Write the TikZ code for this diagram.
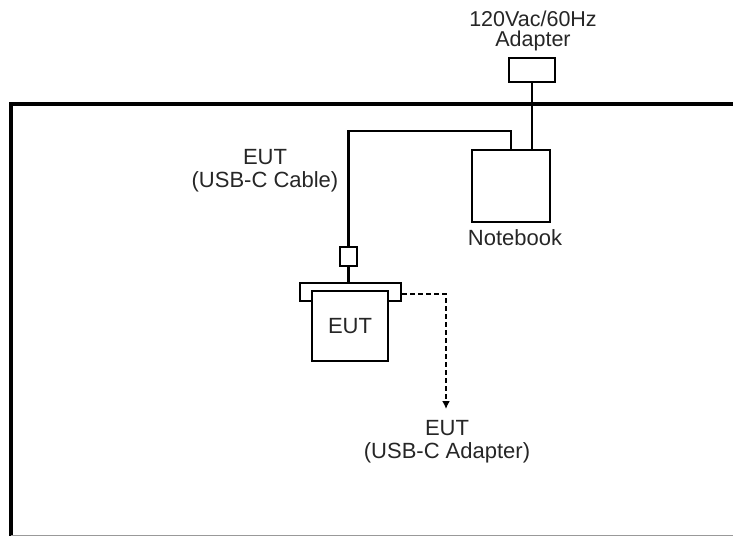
\documentclass[tikz,border=0pt]{standalone}
\usepackage{fontspec}
\setmainfont{Liberation Sans}
\usetikzlibrary{arrows.meta}
\begin{document}
\begin{tikzpicture}[x=1pt,y=-1pt,
  box/.style={draw=black,line width=2.1pt,fill=white,inner sep=0pt,minimum width=#1},
  wire/.style={draw=black,line width=2.1pt},
  lbl/.style={align=center,inner sep=0pt,font=\fontsize{22}{22.5}\selectfont,text=black!85}]
\useasboundingbox (0,0) rectangle (733,536);
% frame
\draw[line width=3.8pt] (733,104) -- (11,104) -- (11,536);
\draw[line width=0.8pt,black!40] (11,535.4) -- (733,535.4);
% boxes
\node[box=46pt,minimum height=24pt] (adapter) at (532,70) {};
\node[box=78pt,minimum height=72pt] (notebook) at (511,186) {};
\node[box=17pt,minimum height=19pt] (connbox) at (348.5,256.5) {};
\node[box=101pt,minimum height=18pt] (bar) at (350.5,292) {};
\node[box=76pt,minimum height=70pt,anchor=north,lbl] (eut) at (350,290) {EUT};
% wires
\coordinate (cabletop) at (348.5,131);
\coordinate (arrowend) at (446,409);
\draw[wire] (adapter.south) -- (adapter.south |- notebook.north);
\draw[wire] (notebook.north) |- (cabletop) -- (connbox.north);
\draw[wire] (connbox.south) -- (connbox.south |- bar.north);
\draw[line width=1.8pt,dash pattern=on 5pt off 3pt,-{Latex[length=8pt,width=8pt]}] ([yshift=-2pt]bar.east) -| (arrowend);
% labels
\node[lbl,anchor=base,font=\fontsize{21.5}{19.8}\selectfont] (adlbl) at (533,46) {120Vac/60Hz\\Adapter};
\node[lbl,anchor=base] (nblbl) at (515,245) {Notebook};
\node[lbl,anchor=base] (cbl) at (265,187) {EUT\\(USB-C Cable)};
\node[lbl,anchor=base] (ual) at (447,458) {EUT\\(USB-C Adapter)};
\end{tikzpicture}
\end{document}
